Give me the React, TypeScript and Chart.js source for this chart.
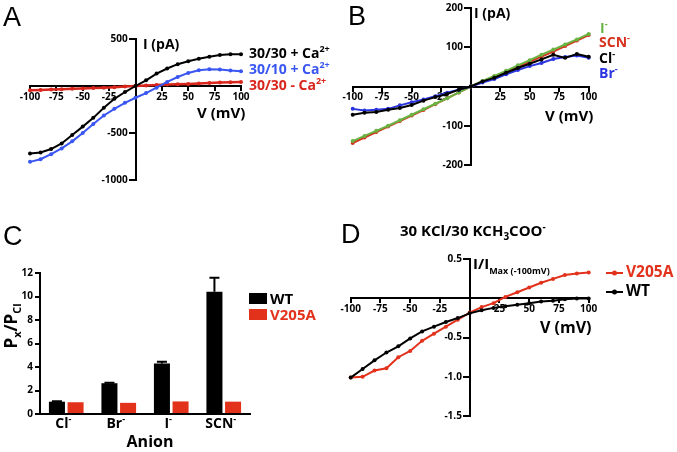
import React, { useEffect, useRef } from 'react';
import { Chart, registerables } from 'chart.js';
Chart.register(...registerables);

const FONT = '"Open Sans", "DejaVu Sans", sans-serif';
const LETTER_FONT = '"Liberation Sans", Arial, sans-serif';

// ---------- Panel A data ----------
const voltsA = [-100, -90, -80, -70, -60, -50, -40, -30, -20, -10, 0, 10, 20, 30, 40, 50, 60, 70, 80, 90, 100];
const a3030Ca = [-718, -707, -671, -611, -521, -432, -339, -232, -136, -64, 0, 61, 132, 186, 232, 264, 289, 311, 329, 339, 339];
const a3010Ca = [-807, -779, -725, -664, -589, -500, -404, -314, -243, -179, -125, -75, -18, 43, 96, 139, 168, 179, 175, 164, 157];
const a3030NoCa = [-45, -42, -38, -35, -30, -27, -22, -18, -12, -6, 0, 5, 10, 15, 18, 22, 27, 32, 36, 40, 43];
const ticksA_Y = { min: -1000, max: 500, step: 500 };

// ---------- Panel B data ----------
const voltsB = [-100, -90, -80, -70, -60, -50, -40, -30, -20, -10, 0, 10, 20, 30, 40, 50, 60, 70, 80, 90, 100];
const bCl = [-72, -67, -65, -59, -55, -47, -36, -27, -19, -8, 0, 13, 22, 35, 47, 58, 69, 81, 73, 83, 76];
const bBr = [-57, -61, -59, -57, -48, -40, -33, -25, -16, -8, 0, 10, 19, 31, 42, 52, 60, 70, 75, 79, 73];
const bI = [-139, -126, -113, -100, -86, -72, -58, -44, -30, -15, 0, 14, 27, 40, 54, 67, 81, 94, 107, 120, 134];
const bSCN = [-144, -130, -116, -102, -88, -74, -60, -45, -30, -15, 0, 12, 25, 38, 50, 63, 76, 89, 103, 117, 131];
const ticksB_Y = { min: -200, max: 200, step: 100 };

// ---------- Panel C data ----------
const anions = ['Cl', 'Br', 'I', 'SCN'];
const wtRatio = [1.05, 2.62, 4.3, 10.4];
const wtErr = [0.03, 0.04, 0.15, 1.2];
const v205aRatio = [1.0, 0.95, 1.07, 1.05];
const ticksC_Y = { min: 0, max: 12, step: 2 };

// ---------- Panel D data ----------
const voltsD = [-100, -90, -80, -70, -60, -50, -40, -30, -20, -10, 0, 10, 20, 30, 40, 50, 60, 70, 80, 90, 100];
const dV205A = [-1.01, -1.0, -0.92, -0.89, -0.75, -0.67, -0.54, -0.45, -0.36, -0.27, -0.18, -0.11, -0.06, 0.02, 0.08, 0.14, 0.2, 0.25, 0.3, 0.32, 0.33];
const dWT = [-1.01, -0.9, -0.79, -0.69, -0.61, -0.51, -0.42, -0.36, -0.3, -0.25, -0.19, -0.15, -0.12, -0.1, -0.08, -0.06, -0.04, -0.03, -0.01, 0.0, 0.0];
const ticksD_Y = { min: -1.5, max: 0.5, step: 0.5 };

const RED_A = '#d8261c';
const BLUE_A = '#3a56f2';
const GREEN_B = '#69b342';
const RED_B = '#d6321e';
const BLUE_B = '#2a35e0';
const RED_CD = '#e2321c';

type Seg = { t: string; s: number; dy?: number; c?: string };
type TextItem = { x: number; y: number; segs: Seg[]; c?: string; align?: 'left' | 'center' | 'right'; rot?: number; fam?: string; w?: string };

function drawText(ctx: CanvasRenderingContext2D, it: TextItem, ox: number, oy: number) {
  ctx.save();
  ctx.translate(it.x - ox, it.y - oy);
  if (it.rot) ctx.rotate(it.rot);
  ctx.textBaseline = 'alphabetic';
  ctx.textAlign = 'left';
  const fam = it.fam || FONT;
  const w = it.w || 'bold';
  const fonts = it.segs.map((sg) => `${w} ${sg.s}px ${fam}`);
  let total = 0;
  const widths = it.segs.map((sg, i) => {
    ctx.font = fonts[i];
    const m = ctx.measureText(sg.t).width;
    total += m;
    return m;
  });
  let x = it.align === 'center' ? -total / 2 : it.align === 'right' ? -total : 0;
  it.segs.forEach((sg, i) => {
    ctx.font = fonts[i];
    ctx.fillStyle = sg.c || it.c || '#000';
    ctx.fillText(sg.t, x, sg.dy || 0);
    x += widths[i];
  });
  ctx.restore();
}

function textPlugin(id: string, texts: TextItem[], ox: number, oy: number, extra?: (chart: any) => void) {
  return {
    id,
    afterDraw(chart: any) {
      const ctx = chart.ctx as CanvasRenderingContext2D;
      texts.forEach((t) => drawText(ctx, t, ox, oy));
      if (extra) extra(chart);
    },
  };
}

const tickFont = { family: FONT, size: 10, weight: 'bold' as const };

type LineSet = { data: number[]; color: string; width?: number; radius?: number };

function lineConfig(p: {
  id: string; ox: number; oy: number; w: number; h: number;
  area: [number, number, number, number];
  xs: number[]; sets: LineSet[];
  yr: { min: number; max: number; step: number }; yDec: number;
  texts: TextItem[]; extra?: (chart: any) => void;
}) {
  const [l, t, r, b] = p.area;
  return {
    type: 'line',
    data: {
      datasets: p.sets.map((s) => ({
        data: p.xs.map((x, i) => ({ x, y: s.data[i] })),
        borderColor: s.color,
        backgroundColor: s.color,
        borderWidth: s.width ?? 1.8,
        pointRadius: s.radius ?? 2,
        pointBorderWidth: 0,
        tension: 0,
        clip: false,
      })),
    },
    options: {
      animation: false,
      responsive: false,
      maintainAspectRatio: false,
      events: [],
      layout: { padding: { left: l - p.ox, top: t - p.oy, right: p.ox + p.w - r, bottom: p.oy + p.h - b } },
      plugins: { legend: { display: false }, tooltip: { enabled: false } },
      scales: {
        x: {
          type: 'linear', min: -100, max: 100, position: { y: 0 },
          ticks: { stepSize: 25, color: '#000', font: tickFont, padding: 1, maxRotation: 0, autoSkip: false,
            callback: (v: number) => (v === 0 ? '' : String(v)) },
          grid: { drawOnChartArea: false, drawTicks: true, tickLength: 4, color: '#000', lineWidth: 2 },
          border: { color: '#000', width: 2 },
        },
        y: {
          type: 'linear', min: p.yr.min, max: p.yr.max, position: { x: 0 },
          ticks: { stepSize: p.yr.step, color: '#000', font: tickFont, padding: 2, autoSkip: false,
            callback: (v: number) => (Math.abs(v) < 1e-9 ? '' : v.toFixed(p.yDec) + '   ') },
          grid: { drawOnChartArea: false, drawTicks: true, tickLength: 6, color: '#000', lineWidth: 2 },
          border: { color: '#000', width: 2 },
        },
      },
    },
    plugins: [textPlugin(p.id, p.texts, p.ox, p.oy, p.extra)],
  };
}

function ChartBox({ left, top, width, height, make }: { left: number; top: number; width: number; height: number; make: () => any }) {
  const ref = useRef<HTMLCanvasElement>(null);
  useEffect(() => {
    const chart = new Chart(ref.current as HTMLCanvasElement, make());
    return () => chart.destroy();
  }, []);
  return <canvas ref={ref} width={width} height={height} style={{ position: 'absolute', left, top, width, height }} />;
}

const sup = (t: string, c?: string): Seg => ({ t, s: 9, dy: -6, c });

function makeA() {
  return lineConfig({
    id: 'pa', ox: 0, oy: 0, w: 338, h: 220, area: [30, 39, 241, 180],
    xs: voltsA,
    sets: [
      { data: a3030Ca, color: '#000', width: 2 },
      { data: a3010Ca, color: BLUE_A, width: 2 },
      { data: a3030NoCa, color: RED_A, width: 2.5 },
    ],
    yr: ticksA_Y, yDec: 0,
    texts: [
      { x: 3, y: 26, segs: [{ t: 'A', s: 27 }], fam: LETTER_FONT, w: 'normal' },
      { x: 143, y: 49, segs: [{ t: 'I (pA)', s: 14 }] },
      { x: 197, y: 118, segs: [{ t: 'V (mV)', s: 15 }] },
      { x: 249, y: 58, segs: [{ t: '30/30 + Ca', s: 14 }, sup('2+')], c: '#000' },
      { x: 249, y: 74, segs: [{ t: '30/10 + Ca', s: 14 }, sup('2+')], c: BLUE_A },
      { x: 249, y: 90, segs: [{ t: '30/30 - Ca', s: 14 }, sup('2+')], c: RED_A },
    ],
  });
}

function makeB() {
  return lineConfig({
    id: 'pb', ox: 338, oy: 0, w: 339, h: 220, area: [352.7, 8, 588.7, 165],
    xs: voltsB,
    sets: [
      { data: bCl, color: '#000', width: 2 },
      { data: bBr, color: BLUE_B, width: 2 },
      { data: bI, color: GREEN_B, width: 2 },
      { data: bSCN, color: RED_B, width: 2 },
    ],
    yr: ticksB_Y, yDec: 0,
    texts: [
      { x: 348, y: 25, segs: [{ t: 'B', s: 27 }], fam: LETTER_FONT, w: 'normal' },
      { x: 474, y: 18, segs: [{ t: 'I (pA)', s: 14 }] },
      { x: 545, y: 121, segs: [{ t: 'V (mV)', s: 15 }] },
      { x: 600, y: 33, segs: [{ t: 'I', s: 14 }, sup('-')], c: GREEN_B },
      { x: 599, y: 47, segs: [{ t: 'SCN', s: 14 }, sup('-')], c: RED_B },
      { x: 599, y: 63, segs: [{ t: 'Cl', s: 14 }, sup('-')], c: '#000' },
      { x: 599, y: 78, segs: [{ t: 'Br', s: 14 }, sup('-')], c: BLUE_B },
    ],
  });
}

function makeC() {
  const ox = 0, oy = 220;
  const texts: TextItem[] = [
    { x: 3, y: 245, segs: [{ t: 'C', s: 27 }], fam: LETTER_FONT, w: 'normal' },
    { x: 17, y: 326, rot: -Math.PI / 2, align: 'center',
      segs: [{ t: 'P', s: 17 }, { t: 'x', s: 11, dy: 4 }, { t: '/P', s: 17 }, { t: 'Cl', s: 11, dy: 4 }] },
    { x: 150, y: 447, align: 'center', segs: [{ t: 'Anion', s: 16 }] },
    { x: 270, y: 304, segs: [{ t: 'WT', s: 15 }] },
    { x: 270, y: 320, segs: [{ t: 'V205A', s: 15 }], c: RED_CD },
  ];
  const extra = (chart: any) => {
    const ctx = chart.ctx as CanvasRenderingContext2D;
    const ys = chart.scales.y;
    const xs = chart.scales.x;
    // error bars (WT)
    const meta = chart.getDatasetMeta(0);
    ctx.save();
    ctx.strokeStyle = '#000';
    ctx.lineWidth = 2;
    meta.data.forEach((bar: any, i: number) => {
      const base = ys.getPixelForValue(wtRatio[i]);
      const top = ys.getPixelForValue(wtRatio[i] + wtErr[i]);
      ctx.beginPath();
      ctx.moveTo(bar.x, base);
      ctx.lineTo(bar.x, top);
      ctx.moveTo(bar.x - 5, top);
      ctx.lineTo(bar.x + 5, top);
      ctx.stroke();
    });
    ctx.restore();
    // category labels
    anions.forEach((a, i) => {
      drawText(ctx, { x: xs.getPixelForValue(i) + ox - 3, y: 428, align: 'center', segs: [{ t: a, s: 14 }, sup('-')] }, ox, oy);
    });
    // legend squares
    ctx.fillStyle = '#000';
    ctx.fillRect(249 - ox, 293 - oy, 18, 11);
    ctx.fillStyle = RED_CD;
    ctx.fillRect(249 - ox, 309 - oy, 18, 11);
  };
  return {
    type: 'bar',
    data: {
      labels: anions,
      datasets: [
        { label: 'WT', data: wtRatio, backgroundColor: '#000', barPercentage: 0.86, categoryPercentage: 0.71 },
        { label: 'V205A', data: v205aRatio, backgroundColor: RED_CD, barPercentage: 0.86, categoryPercentage: 0.71 },
      ],
    },
    options: {
      animation: false,
      responsive: false,
      maintainAspectRatio: false,
      events: [],
      layout: { padding: { left: 0, top: 53, right: 338 - 250, bottom: 0 } },
      plugins: { legend: { display: false }, tooltip: { enabled: false } },
      scales: {
        x: {
          grid: { display: false },
          ticks: { display: false },
          border: { color: '#000', width: 2 },
          afterFit: (s: any) => { s.height = 38; },
        },
        y: {
          min: ticksC_Y.min, max: ticksC_Y.max,
          ticks: { stepSize: ticksC_Y.step, color: '#000', font: tickFont, padding: 2 },
          grid: { drawOnChartArea: false, drawTicks: true, tickLength: 5, color: '#000', lineWidth: 2 },
          border: { color: '#000', width: 2 },
          afterFit: (s: any) => { s.width = 40; },
        },
      },
    },
    plugins: [textPlugin('pc', texts, ox, oy, extra)],
  };
}

function makeD() {
  const ox = 338, oy = 220;
  const extra = (chart: any) => {
    const ctx = chart.ctx as CanvasRenderingContext2D;
    const items: [number, string][] = [[273, RED_CD], [292, '#000']];
    items.forEach(([y, c]) => {
      ctx.save();
      ctx.strokeStyle = c;
      ctx.fillStyle = c;
      ctx.lineWidth = 2;
      ctx.beginPath();
      ctx.moveTo(606 - ox, y - oy);
      ctx.lineTo(623 - ox, y - oy);
      ctx.stroke();
      ctx.beginPath();
      ctx.arc(614.5 - ox, y - oy, 2.5, 0, Math.PI * 2);
      ctx.fill();
      ctx.restore();
    });
  };
  return lineConfig({
    id: 'pd', ox, oy, w: 339, h: 232, area: [350.7, 259.3, 588.7, 416],
    xs: voltsD,
    sets: [
      { data: dWT, color: '#000', width: 2 },
      { data: dV205A, color: RED_CD, width: 2 },
    ],
    yr: ticksD_Y, yDec: 1,
    texts: [
      { x: 341, y: 243, segs: [{ t: 'D', s: 27 }], fam: LETTER_FONT, w: 'normal' },
      { x: 400, y: 236, segs: [{ t: '30 KCl/30 KCH', s: 15 }, { t: '3', s: 10, dy: 4 }, { t: 'COO', s: 15 }, { t: '-', s: 10, dy: -6 }] },
      { x: 473, y: 269, segs: [{ t: 'I/I', s: 15 }, { t: 'Max (-100mV)', s: 9, dy: 5 }] },
      { x: 540, y: 333, segs: [{ t: 'V (mV)', s: 16 }] },
      { x: 626, y: 277, segs: [{ t: 'V205A', s: 15.5 }], c: RED_CD },
      { x: 626, y: 296, segs: [{ t: 'WT', s: 15.5 }] },
    ],
    extra,
  });
}

export default function App() {
  return (
    <div style={{ position: 'absolute', left: 0, top: 0, width: 677, height: 452, background: '#fff', overflow: 'hidden' }}>
      <ChartBox left={0} top={0} width={338} height={220} make={makeA} />
      <ChartBox left={338} top={0} width={339} height={220} make={makeB} />
      <ChartBox left={0} top={220} width={338} height={232} make={makeC} />
      <ChartBox left={338} top={220} width={339} height={232} make={makeD} />
    </div>
  );
}
